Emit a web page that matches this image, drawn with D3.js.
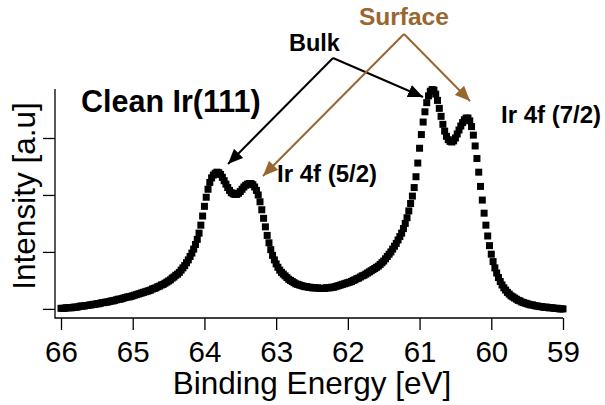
<!DOCTYPE html>
<html><head><meta charset="utf-8">
<script src="https://cdn.jsdelivr.net/npm/d3@7"></script>
<style>html,body{margin:0;padding:0;background:#fff;} svg{display:block;}</style>
</head><body><svg id="chart" width="605" height="405"></svg>
<script>
// Binding energy grid (eV)
const energies = [
66,65.975,65.95,65.925,65.9,65.875,65.85,65.825,65.8,65.775,
65.75,65.725,65.7,65.675,65.65,65.625,65.6,65.575,65.55,65.525,
65.5,65.475,65.45,65.425,65.4,65.375,65.35,65.325,65.3,65.275,
65.25,65.225,65.2,65.175,65.15,65.125,65.1,65.075,65.05,65.025,
65,64.975,64.95,64.925,64.9,64.875,64.85,64.825,64.8,64.775,
64.75,64.725,64.7,64.675,64.65,64.625,64.6,64.575,64.55,64.525,
64.5,64.475,64.45,64.425,64.4,64.375,64.35,64.325,64.3,64.275,
64.25,64.225,64.2,64.175,64.15,64.125,64.1,64.075,64.05,64.025,
64,63.975,63.95,63.925,63.9,63.875,63.85,63.825,63.8,63.775,
63.75,63.725,63.7,63.675,63.65,63.625,63.6,63.575,63.55,63.525,
63.5,63.475,63.45,63.425,63.4,63.375,63.35,63.325,63.3,63.275,
63.25,63.225,63.2,63.175,63.15,63.125,63.1,63.075,63.05,63.025,
63,62.975,62.95,62.925,62.9,62.875,62.85,62.825,62.8,62.775,
62.75,62.725,62.7,62.675,62.65,62.625,62.6,62.575,62.55,62.525,
62.5,62.475,62.45,62.425,62.4,62.375,62.35,62.325,62.3,62.275,
62.25,62.225,62.2,62.175,62.15,62.125,62.1,62.075,62.05,62.025,
62,61.975,61.95,61.925,61.9,61.875,61.85,61.825,61.8,61.775,
61.75,61.725,61.7,61.675,61.65,61.625,61.6,61.575,61.55,61.525,
61.5,61.475,61.45,61.425,61.4,61.375,61.35,61.325,61.3,61.275,
61.25,61.225,61.2,61.175,61.15,61.125,61.1,61.075,61.05,61.025,
61,60.975,60.95,60.925,60.9,60.875,60.85,60.825,60.8,60.775,
60.75,60.725,60.7,60.675,60.65,60.625,60.6,60.575,60.55,60.525,
60.5,60.475,60.45,60.425,60.4,60.375,60.35,60.325,60.3,60.275,
60.25,60.225,60.2,60.175,60.15,60.125,60.1,60.075,60.05,60.025,
60,59.975,59.95,59.925,59.9,59.875,59.85,59.825,59.8,59.775,
59.75,59.725,59.7,59.675,59.65,59.625,59.6,59.575,59.55,59.525,
59.5,59.475,59.45,59.425,59.4,59.375,59.35,59.325,59.3,59.275,
59.25,59.225,59.2,59.175,59.15,59.125,59.1,59.075,59.05,59.025,
59];
// Intensity (arbitrary units)
const intensities = [
0.01,0.01,0.01,0.02,0.02,0.02,0.02,0.03,0.03,0.03,
0.04,0.05,0.05,0.05,0.06,0.06,0.07,0.07,0.08,0.08,
0.09,0.09,0.10,0.11,0.11,0.12,0.12,0.13,0.14,0.14,
0.15,0.16,0.17,0.17,0.18,0.19,0.20,0.21,0.21,0.22,
0.23,0.24,0.25,0.26,0.27,0.28,0.29,0.30,0.31,0.32,
0.33,0.35,0.36,0.37,0.39,0.40,0.42,0.43,0.45,0.47,
0.49,0.51,0.54,0.56,0.59,0.61,0.64,0.68,0.72,0.76,
0.81,0.86,0.92,0.98,1.05,1.13,1.22,1.33,1.47,1.63,
1.80,1.96,2.10,2.22,2.30,2.35,2.38,2.40,2.39,2.36,
2.31,2.25,2.19,2.13,2.08,2.04,2.02,2.01,2.01,2.03,
2.06,2.10,2.14,2.17,2.19,2.20,2.20,2.18,2.14,2.08,
2.00,1.88,1.74,1.59,1.44,1.29,1.16,1.04,0.94,0.86,
0.79,0.73,0.68,0.64,0.61,0.58,0.55,0.52,0.50,0.48,
0.46,0.44,0.43,0.42,0.41,0.40,0.39,0.39,0.38,0.38,
0.37,0.37,0.37,0.37,0.36,0.36,0.36,0.36,0.37,0.37,
0.37,0.38,0.38,0.39,0.40,0.41,0.42,0.43,0.44,0.45,
0.46,0.47,0.48,0.50,0.51,0.53,0.54,0.56,0.58,0.59,
0.61,0.63,0.65,0.67,0.69,0.71,0.73,0.75,0.78,0.81,
0.84,0.88,0.92,0.96,1.00,1.05,1.10,1.15,1.21,1.27,
1.33,1.41,1.50,1.60,1.72,1.85,1.98,2.13,2.32,2.56,
2.82,3.06,3.28,3.46,3.62,3.74,3.82,3.85,3.84,3.77,
3.66,3.52,3.38,3.24,3.12,3.03,2.97,2.94,2.93,2.95,
3.00,3.07,3.14,3.21,3.27,3.32,3.35,3.35,3.30,3.20,
3.05,2.86,2.64,2.40,2.15,1.91,1.68,1.47,1.28,1.11,
0.96,0.83,0.72,0.63,0.55,0.48,0.42,0.37,0.33,0.29,
0.26,0.23,0.21,0.19,0.17,0.15,0.14,0.12,0.11,0.10,
0.09,0.08,0.07,0.07,0.06,0.05,0.05,0.04,0.04,0.03,
0.03,0.03,0.02,0.02,0.02,0.01,0.01,0.01,0.00,0.00,
0.00];
const xTicks = [66,65,64,63,62,61,60,59];
const yTicks = [0,1,2,3];
const xTitle = "Binding Energy [eV]";
const yTitle = "Intensity [a.u]";
const sampleLabel = "Clean Ir(111)";
const peakLabels = ["Ir 4f (5/2)", "Ir 4f (7/2)"];
const componentLabels = ["Bulk", "Surface"];

const FONT = "'Liberation Sans', Arial, Helvetica, sans-serif";
const BROWN = "#9a6630";
const svg = d3.select("#chart");

const x = d3.scaleLinear().domain([66, 59]).range([61, 563]);
const y = d3.scaleLinear().domain([-0.16, 3.86]).range([318, 89]);

// axes
const xAxis = d3.axisBottom(x).tickValues(xTicks).tickSize(12).tickSizeOuter(0).tickFormat(d3.format("d"));
const gx = svg.append("g").attr("transform", "translate(0,318)").call(xAxis);
gx.select(".domain").remove();
gx.selectAll(".tick line").attr("stroke", "#000").attr("stroke-width", 1.3);
gx.selectAll(".tick text").attr("font-family", FONT).attr("font-size", 29.5).attr("fill", "#000")
  .attr("y", 44).attr("dy", 0);

const yAxis = d3.axisLeft(y).tickValues(yTicks).tickSize(12).tickSizeOuter(0).tickFormat("");
const gy = svg.append("g").attr("transform", "translate(55,0)").call(yAxis);
gy.select(".domain").remove();
gy.selectAll(".tick line").attr("stroke", "#000").attr("stroke-width", 1.3);

svg.append("path")
  .attr("d", `M55,${y.range()[1]}V318H${x(59)}`)
  .attr("fill", "none").attr("stroke", "#000").attr("stroke-width", 1.3);

// titles
svg.append("text").attr("x", 312).attr("y", 394)
  .attr("text-anchor", "middle").attr("font-family", FONT).attr("font-size", 31.5).text(xTitle);
svg.append("text").attr("transform", "translate(35,196) rotate(-90)")
  .attr("text-anchor", "middle").attr("font-family", FONT).attr("font-size", 31.5).text(yTitle);

// data markers
const pts = energies.map((e, i) => ({e, v: intensities[i]}));
const S = 7;
svg.append("g").selectAll("rect").data(pts).join("rect")
  .attr("x", d => x(d.e) - S / 2).attr("y", d => y(d.v) - S / 2)
  .attr("width", S).attr("height", S).attr("fill", "#000");

// arrow markers
const defs = svg.append("defs");
[["ahBlack", "#000"], ["ahBrown", BROWN]].forEach(([id, c]) => {
  defs.append("marker").attr("id", id).attr("markerUnits", "userSpaceOnUse")
    .attr("viewBox", "0 -7 15 14").attr("refX", 15).attr("refY", 0)
    .attr("markerWidth", 15).attr("markerHeight", 14).attr("orient", "auto")
    .append("path").attr("d", "M0,-6.5L15,0L0,6.5Z").attr("fill", c);
});

// annotation anchor points in data coordinates
const bulkApex = [62.207, 4.404];
const bulkTips = [[63.671, 2.543], [60.952, 3.719]];
const surfApex = [61.217, 4.825];
const surfTips = [[63.183, 2.333], [60.297, 3.649]];

function arrow(from, to, color, marker) {
  svg.append("line").attr("x1", x(from[0])).attr("y1", y(from[1]))
    .attr("x2", x(to[0])).attr("y2", y(to[1]))
    .attr("stroke", color).attr("stroke-width", 2).attr("marker-end", `url(#${marker})`);
}
bulkTips.forEach(t => arrow(bulkApex, t, "#000", "ahBlack"));
surfTips.forEach(t => arrow(surfApex, t, BROWN, "ahBrown"));

function label(txt, pos, size, color) {
  svg.append("text").attr("x", x(pos[0])).attr("y", y(pos[1]))
    .attr("font-family", FONT).attr("font-weight", "bold").attr("font-size", size)
    .attr("fill", color).text(txt);
}
label(sampleLabel, [65.721, 3.456], 30.5, "#000");
label(componentLabels[0], [62.821, 4.527], 23.5, "#000");
label(componentLabels[1], [61.845, 4.983], 24.5, BROWN);
label(peakLabels[0], [62.988, 2.227], 24, "#000");
label(peakLabels[1], [59.864, 3.263], 24, "#000");
</script></body></html>
